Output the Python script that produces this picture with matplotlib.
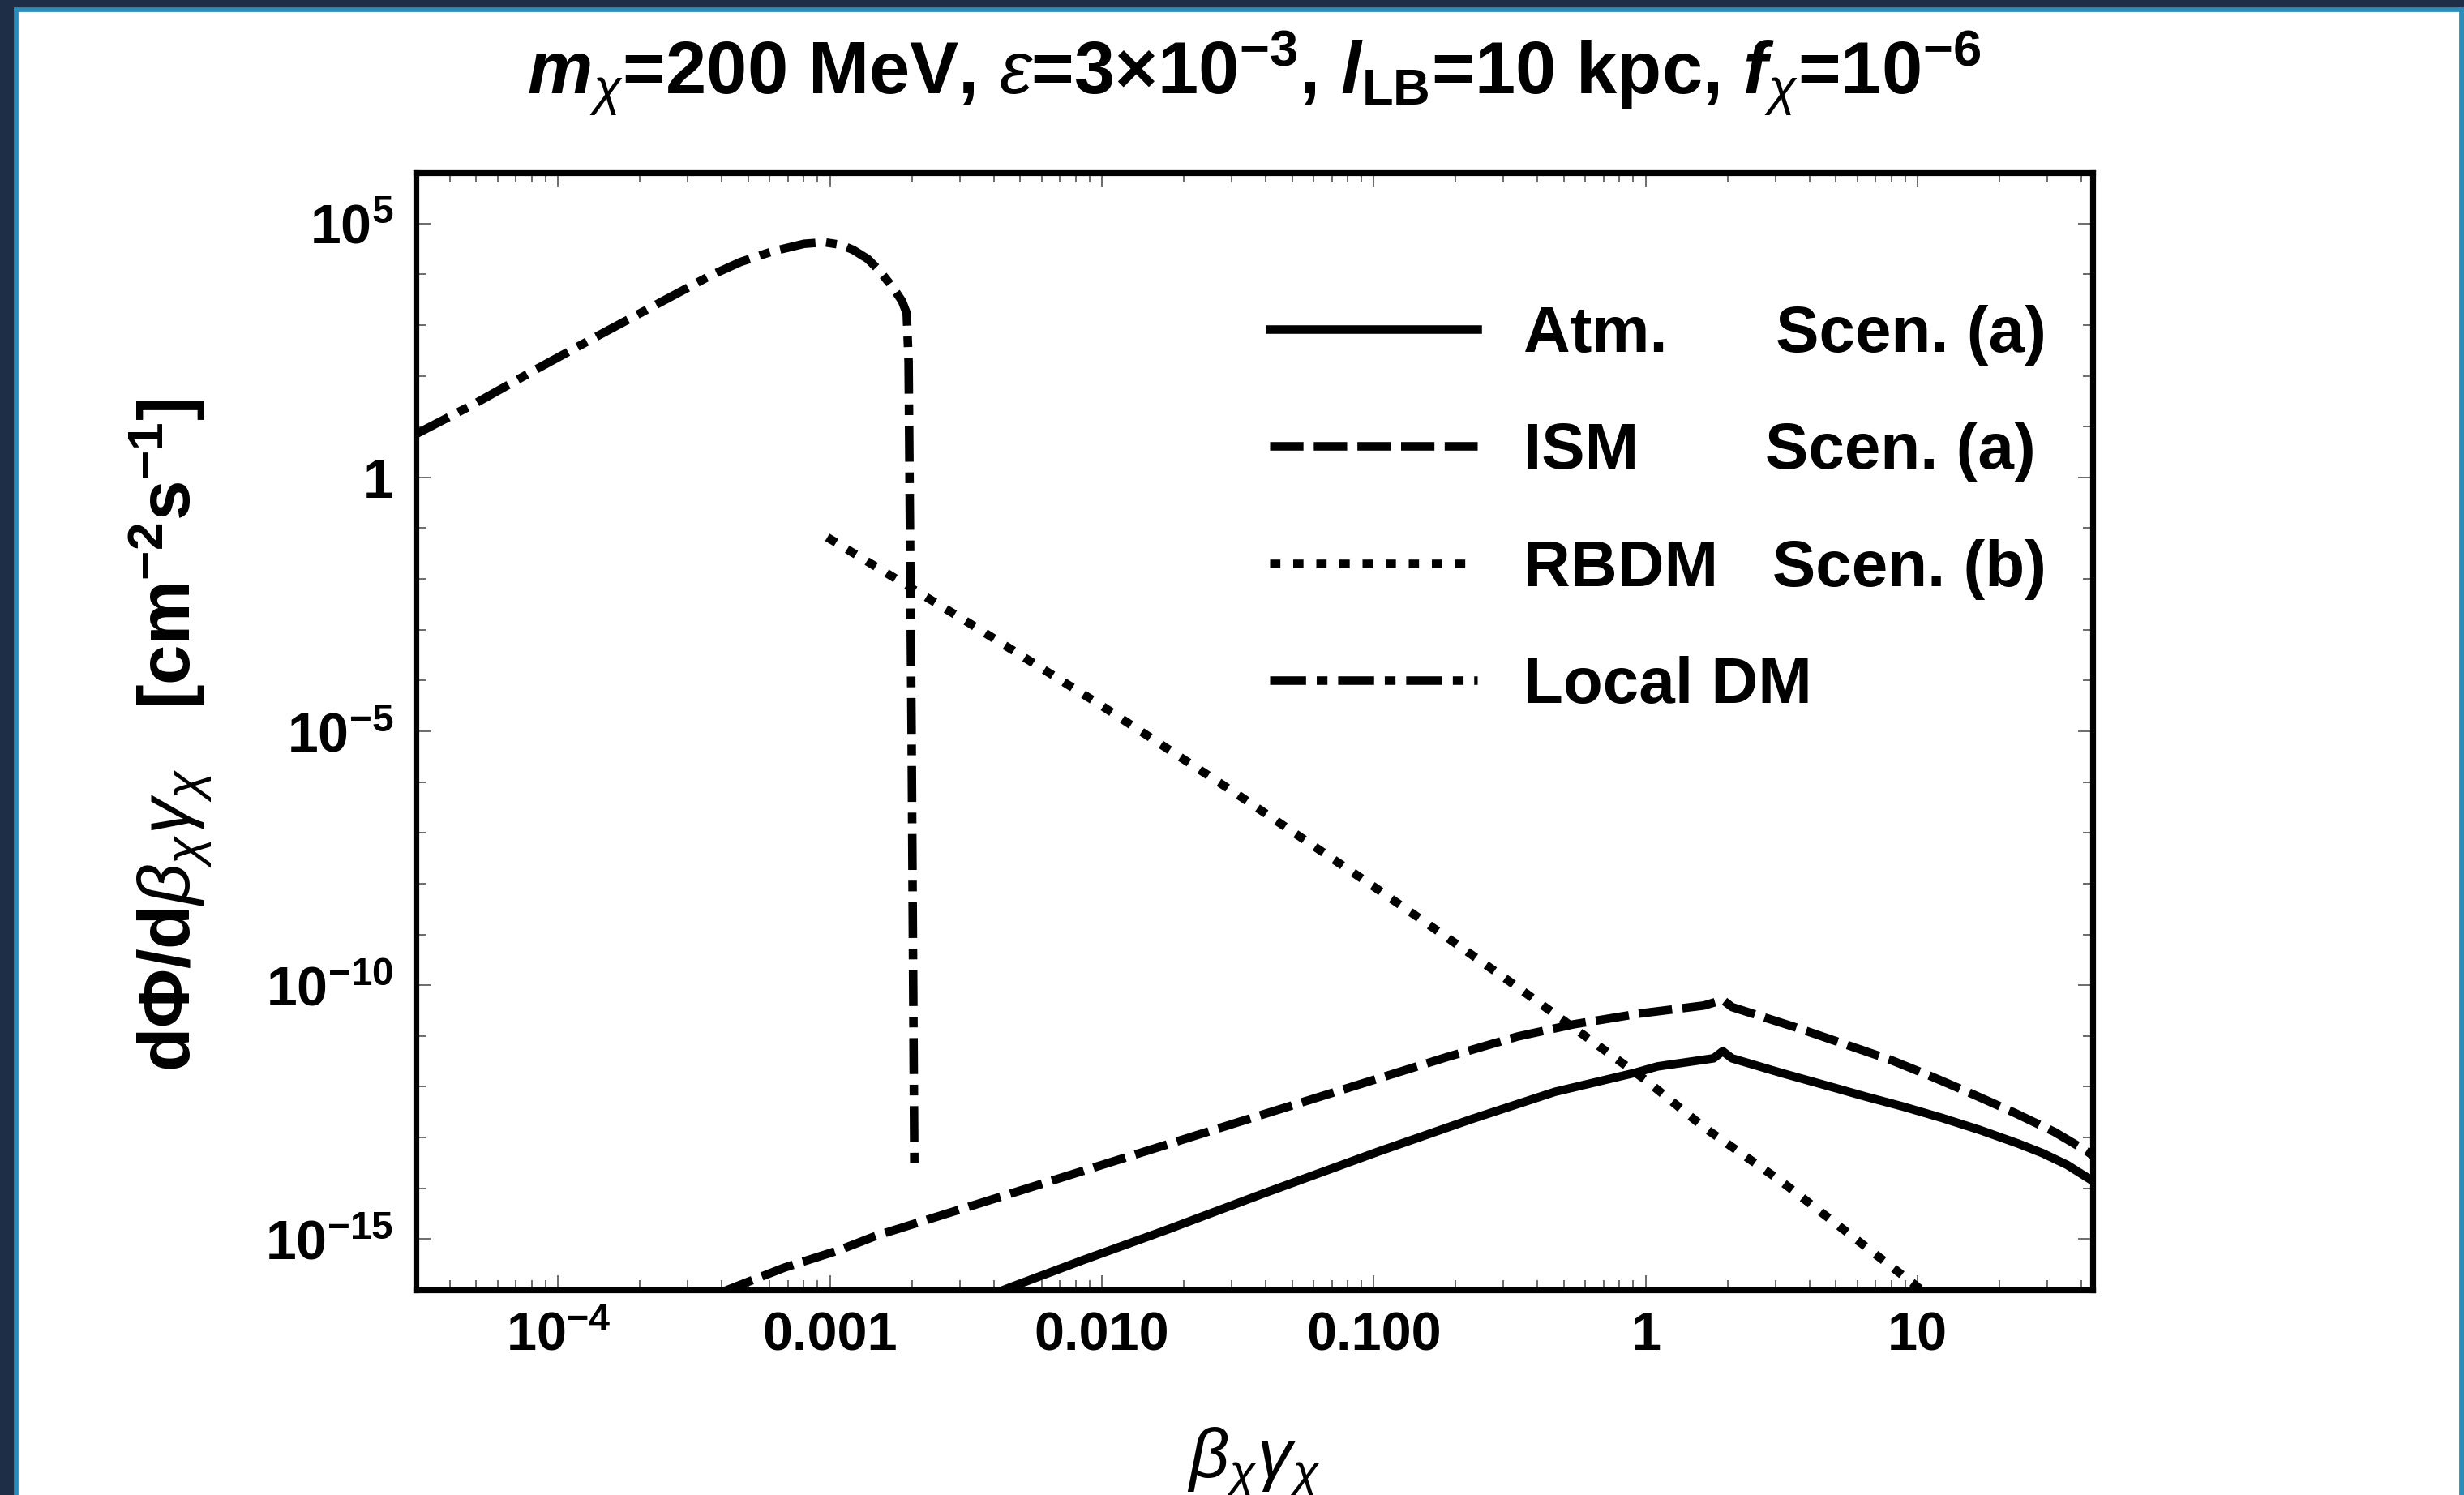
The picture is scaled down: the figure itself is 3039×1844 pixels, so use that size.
import numpy as np
import matplotlib
matplotlib.use('Agg')
import matplotlib.pyplot as plt
from matplotlib.patches import Rectangle
from matplotlib.ticker import FixedLocator, FixedFormatter, NullFormatter

plt.rcParams['font.family'] = 'Liberation Sans'
plt.rcParams['font.weight'] = 'bold'
plt.rcParams['mathtext.fontset'] = 'custom'
plt.rcParams['mathtext.rm'] = 'Liberation Sans:weight=bold'
plt.rcParams['mathtext.bf'] = 'Liberation Sans:weight=bold'
plt.rcParams['mathtext.it'] = 'Liberation Sans:style=italic:weight=normal'
plt.rcParams['mathtext.bfit'] = 'Liberation Sans:style=italic:weight=bold'
plt.rcParams['mathtext.fallback'] = 'stixsans'

# curves, as log10(beta*gamma) and log10(flux)
atm_lx = [-2.37, -2.342, -2.068, -1.768, -1.40, -0.985, -0.642, -0.334, -0.043,
          0.043, 0.249, 0.283, 0.317, 0.50, 0.694, 0.806, 0.946, 1.087, 1.228,
          1.370, 1.46, 1.55, 1.645]
atm_ly = [-16.02, -15.96, -15.41, -14.83, -14.09, -13.28, -12.64, -12.10, -11.73,
          -11.60, -11.44, -11.30, -11.44, -11.73, -12.02, -12.19, -12.39, -12.61, -12.85,
          -13.12, -13.31, -13.54, -13.86]

ism_lx = [-3.40, -3.358, -3.167, -2.968, -2.828, -2.5, -2.0, -1.5, -0.985, -0.728,
          -0.471, -0.265, -0.025, 0.214, 0.283, 0.317, 0.557, 0.900, 1.052, 1.200,
          1.355, 1.503, 1.623, 1.645]
ism_ly = [-16.05, -15.96, -15.56, -15.22, -14.93, -14.38, -13.54, -12.70, -11.84, -11.41,
          -11.01, -10.77, -10.56, -10.40, -10.29, -10.43, -10.84, -11.47, -11.80, -12.14,
          -12.51, -12.89, -13.27, -13.36]

rbdm_lx = [-3.01, -2.5, -2.0, -1.5, -1.0, -0.728, -0.5, -0.28, 0.0, 0.214, 0.5, 0.985, 1.02]
rbdm_ly = [-1.18, -2.83, -4.50, -6.25, -8.06, -9.07, -9.93, -10.78, -11.87, -12.80, -13.87, -15.88, -16.03]

local_lx = [-4.52, -4.30, -4.087, -3.874, -3.661, -3.441, -3.33, -3.212, -3.095, -3.021,
            -2.96, -2.915, -2.861, -2.82, -2.781, -2.755, -2.735, -2.718, -2.711, -2.70, -2.69]
local_ly = [0.86, 1.47, 2.11, 2.73, 3.34, 3.97, 4.24, 4.45, 4.60, 4.63,
            4.58, 4.48, 4.30, 4.08, 3.82, 3.63, 3.47, 3.23, 2.27, -5.0, -13.5]

labels = ['Atm.      Scen. (a)', 'ISM       Scen. (a)', 'RBDM   Scen. (b)', 'Local DM']

xtick_vals = [1e-4, 1e-3, 1e-2, 1e-1, 1, 10]
xtick_labels = [r'$10^{-4}$', '0.001', '0.010', '0.100', '1', '10']
ytick_vals = [1e5, 1, 1e-5, 1e-10, 1e-15]
ytick_labels = [r'$10^{5}$', '1', r'$10^{-5}$', r'$10^{-10}$', r'$10^{-15}$']

W, H, DPI = 3039, 1844, 200
fig = plt.figure(figsize=(W / DPI, H / DPI), dpi=DPI, facecolor='white')
ax = fig.add_axes([513 / W, 1 - 1591 / H, (2581 - 513) / W, (1591 - 213) / H])

lw = 3.8
ax.plot(10 ** np.array(atm_lx), 10 ** np.array(atm_ly), color='black', lw=lw,
        label=labels[0])
ax.plot(10 ** np.array(ism_lx), 10 ** np.array(ism_ly), color='black', lw=lw,
        dashes=(3.9, 1.2), label=labels[1])
ax.plot(10 ** np.array(rbdm_lx), 10 ** np.array(rbdm_ly), color='black', lw=lw,
        dashes=(1.2, 1.5), label=labels[2])
ax.plot(10 ** np.array(local_lx), 10 ** np.array(local_ly), color='black', lw=lw,
        dashes=(4.2, 1.25, 1.25, 1.25), label=labels[3])

ax.set_xscale('log')
ax.set_yscale('log')
ax.set_xlim(3.0e-5, 44)
ax.set_ylim(1e-16, 1e6)

ax.xaxis.set_major_locator(FixedLocator(xtick_vals))
ax.xaxis.set_major_formatter(FixedFormatter(xtick_labels))
xminor = [m * 10.0 ** e for e in range(-5, 2) for m in range(2, 10)]
ax.xaxis.set_minor_locator(FixedLocator(xminor))
ax.xaxis.set_minor_formatter(NullFormatter())

ax.yaxis.set_major_locator(FixedLocator(ytick_vals))
ax.yaxis.set_major_formatter(FixedFormatter(ytick_labels))
yminor = [10.0 ** e for e in range(-16, 7) if e % 5 != 0]
ax.yaxis.set_minor_locator(FixedLocator(yminor))
ax.yaxis.set_minor_formatter(NullFormatter())

ax.tick_params(which='both', direction='in', top=True, right=True,
               color='#444444', width=0.55)
ax.tick_params(which='major', length=6.5)
ax.tick_params(which='minor', length=4.3)
ax.tick_params(axis='x', which='major', labelsize=24, pad=9.5)
ax.tick_params(axis='y', which='major', labelsize=24.5, pad=10)
for s in ax.spines.values():
    s.set_linewidth(2.6)

leg = ax.legend(loc='upper left', bbox_to_anchor=(0.509, 0.882), frameon=False,
                fontsize=28.8, handlelength=3.2, handletextpad=0.72,
                labelspacing=0.87, borderpad=0, borderaxespad=0)

fig.text((513 + 2581) / 2 / W, 1 - 90 / H,
         r'$\mathbfit{m}_{\chi}$=200 MeV, $\epsilon$=3×10$^{-3}$, '
         r'$\mathbfit{l}_{\mathbf{LB}}$=10 kpc, $\mathbfit{f}_{\chi}$=10$^{-6}$',
         ha='center', va='center', fontsize=32.5, fontweight='bold')

fig.text(210 / W, 1 - 907 / H,
         r'd$\Phi$/d$\beta_{\chi}\gamma_{\chi}$   [cm$^{-2}$s$^{-1}$]',
         rotation=90, ha='center', va='center', fontsize=32, fontweight='bold')

fig.text((513 + 2581) / 2 / W, 1 - 1758 / H, r'$\beta_{\chi}\gamma_{\chi}$',
         ha='center', va='top', fontsize=31)

# dark slide frame around the picture
navy, teal = '#1f2e47', '#2b8cb8'
fig.patches.append(Rectangle((0, 1 - 10 / H), 1, 10 / H, transform=fig.transFigure,
                             color=navy, zorder=10))
fig.patches.append(Rectangle((0, 0), 18 / W, 1, transform=fig.transFigure,
                             color=navy, zorder=10))
fig.patches.append(Rectangle((18 / W, 0), 3 / W, 1 - 10 / H, transform=fig.transFigure,
                             color=teal, zorder=10))
fig.patches.append(Rectangle((18 / W, 1 - 13 / H), 1, 3 / H, transform=fig.transFigure,
                             color=teal, zorder=10))
fig.patches.append(Rectangle((1 - 5 / W, 0), 5 / W, 1 - 10 / H, transform=fig.transFigure,
                             color=teal, zorder=10))

fig.savefig('out.png', dpi=DPI, facecolor='white')
